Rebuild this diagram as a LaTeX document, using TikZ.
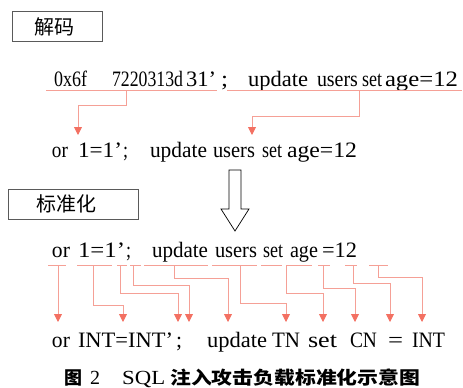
\documentclass[tikz,border=0pt]{standalone}
\usepackage{fontspec}
\usepackage{graphicx}
\setmainfont{Liberation Serif}
\newfontfamily\cjk{Noto Sans CJK SC}
\usetikzlibrary{arrows.meta}
\definecolor{lnC}{RGB}{245,160,150}
\definecolor{arC}{RGB}{243,112,98}
\definecolor{boxC}{RGB}{90,90,90}
\tikzset{
  wd/.style={anchor=base west,inner sep=0pt,outer sep=0pt,font=\fontsize{22}{22}\selectfont},
  ul/.style={draw=lnC,line width=0.9pt},
  conn/.style={draw=lnC,line width=0.9pt,-{Triangle[width=8pt,length=8pt,color=arC]}},
  labbox/.style={draw=boxC,line width=0.8pt,fill=white},
  lab/.style={inner sep=0pt,font=\cjk\fontsize{20}{20}\selectfont},
}
\newcommand\W[5]{\node[wd] (#1) at (#2,#3) {\resizebox{#4pt}{\height}{#5}};}
\begin{document}
\begin{tikzpicture}[x=1pt,y=-1pt]
\useasboundingbox (0,0) rectangle (463,388);
% boxes
\draw[labbox] (12,11) rectangle (102,41);
\node[lab] (dec) at (54,27) {解码};
\draw[labbox] (8,189) rectangle (138,219);
\node[lab] (std) at (66,204) {标准化};
% line 1
\W{a1}{54}{86}{33}{0x6f}
\W{a2}{112}{86}{71}{7220313d}
\W{a3}{186}{86}{30}{31’}
\W{a4}{221}{86}{7}{;}
\W{a5}{248}{86}{60}{update}
\W{a6}{317}{86}{41}{users}
\W{a7}{362}{86}{20}{set}
\W{a8}{385}{86}{73}{age=12}
\coordinate (u1a) at (46,90); \coordinate (u1b) at (217,90);
\coordinate (u2a) at (227,90); \coordinate (u2b) at (462,90);
\draw[ul] (u1a) -- (u1b);
\draw[ul] (u2a) -- (u2b);
% line 2
\W{b1}{52}{157}{16}{or}
\W{b2}{78}{157}{44}{1=1’}
\W{b3}{123}{157}{5}{;}
\W{b4}{150}{157}{57}{update}
\W{b5}{213}{157}{42}{users}
\W{b6}{262}{157}{20}{set}
\W{b7}{287}{157}{70}{age=12}
\coordinate (s1) at (126,90); \coordinate (t1) at (78,135);
\coordinate (s2) at (359,90); \coordinate (t2) at (252,135);
\draw[conn] (s1) |- (78,105) -- (t1);
\draw[conn] (s2) |- (252,116) -- (t2);
% hollow arrow
\draw[draw=black,line width=0.7pt,fill=white] (229,170) -- (241,170) -- (241,209) -- (249,209) -- (235,231) -- (221,209) -- (229,209) -- cycle;
% line 3
\W{c1}{52}{257}{18}{or}
\W{c2}{78}{257}{47}{1=1’}
\W{c3}{126}{257}{5}{;}
\W{c4}{152}{257}{56}{update}
\W{c5}{215}{257}{42}{users}
\W{c6}{263}{257}{20}{set}
\W{c7}{290}{257}{28}{age}
\W{c8}{322}{257}{35}{=12}
\foreach \xa/\xb in {48/66,77/112,117/127,130/141,144/208,212/257,261/282,286/312,318/330,345/357,369/388}{
  \draw[ul] (\xa,265) -- (\xb,265);
}
% connectors line 3 -> line 4
\foreach \xs/\ym/\xt in {93/305/123,120/293/178,133/285/189,174/278/228,240/303/286,286/293/323,323/288/355,353/283/390,378/277/422}{
  \draw[conn] (\xs,265) |- (\xt,\ym) -- (\xt,322);
}
\coordinate (s3) at (58,265); \coordinate (t3) at (58,322);
\draw[conn] (s3) -- (t3);
% line 4
\W{d1}{52}{347}{18}{or}
\W{d2}{78}{347}{95}{INT=INT’}
\W{d3}{176}{347}{6}{;}
\W{d4}{207}{347}{60}{update}
\W{d5}{272}{347}{28}{TN}
\W{d6}{308}{347}{29}{set}
\W{d7}{350}{347}{27}{CN}
\W{d8}{388}{347}{15}{=}
\W{d9}{412}{347}{33}{INT}
% caption
\node[anchor=base west,inner sep=0pt,font=\cjk\bfseries\fontsize{18}{18}\selectfont] (cap1) at (64,384) {图};
\node[anchor=base west,inner sep=0pt,font=\fontsize{20}{20}\selectfont] (cap2) at (90,384) {2};
\node[anchor=base west,inner sep=0pt,font=\fontsize{20}{20}\selectfont] (cap3) at (122,384) {\resizebox{43pt}{\height}{SQL}};
\node[anchor=base west,inner sep=0pt,font=\cjk\bfseries\fontsize{18}{18}\selectfont] (cap4) at (170,384) {\resizebox{250pt}{\height}{注入攻击负载标准化示意图}};
\end{tikzpicture}
\end{document}
